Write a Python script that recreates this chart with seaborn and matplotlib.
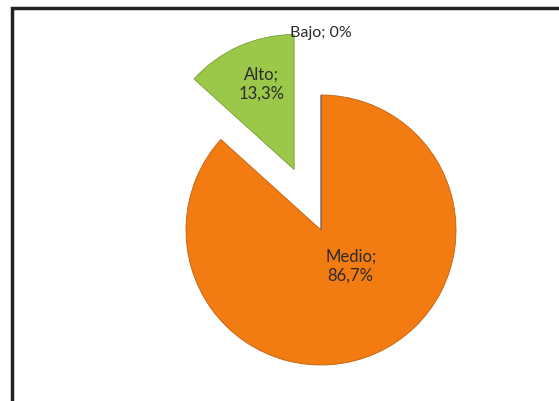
import matplotlib
matplotlib.use("Agg")
import matplotlib.pyplot as plt
import seaborn as sns
from matplotlib.patches import Rectangle

sns.set_theme(style="white")
plt.rcParams['font.family'] = ['Lato', 'DejaVu Sans']

categories = ["Medio", "Alto", "Bajo"]
values = [86.7, 13.3, 0.0]
value_labels = ["86,7%", "13,3%", "0%"]
colors = ["#F27B12", "#9CC84A", "#4F81BD"]
explode = [0.0, 0.49, 0.0]

W, H = 559, 402
cx, cy, R = 321, 231, 135
fig = plt.figure(figsize=(W / 100, H / 100), dpi=100)
ax = fig.add_axes([0, 0, 1, 1])

wedges, _ = ax.pie(values, colors=colors, explode=explode, startangle=90,
                   counterclock=False, radius=1.0,
                   wedgeprops=dict(linewidth=0.8, edgecolor="none"))
for w, c in zip(wedges, colors):
    w.set_edgecolor(sns.set_hls_values(c, l=0.4))
    w.set_linewidth(0.6)

ax.set_aspect("auto")
ax.set_xlim(-cx / R, (W - cx) / R)
ax.set_ylim(-(H - cy) / R, cy / R)
ax.axis("off")

txt = dict(ha="center", va="center", color="#2b2b2b", fontsize=12, linespacing=1.25)
ax.text(0.22, -0.26, f"{categories[0]};\n{value_labels[0]}", **txt)
ax.text(-0.44, 1.09, f"{categories[1]};\n{value_labels[1]}", **txt)
ax.text(0.0, 1.47, f"{categories[2]}; {value_labels[2]}", **dict(txt, fontsize=11.5))

fig.patches.append(Rectangle((11.5 / W, -0.2), 1.2, (H - 9) / H + 0.2,
                             transform=fig.transFigure, fill=False,
                             edgecolor="#222222", linewidth=2.5))
fig.savefig("out.png", dpi=100, facecolor="white")
